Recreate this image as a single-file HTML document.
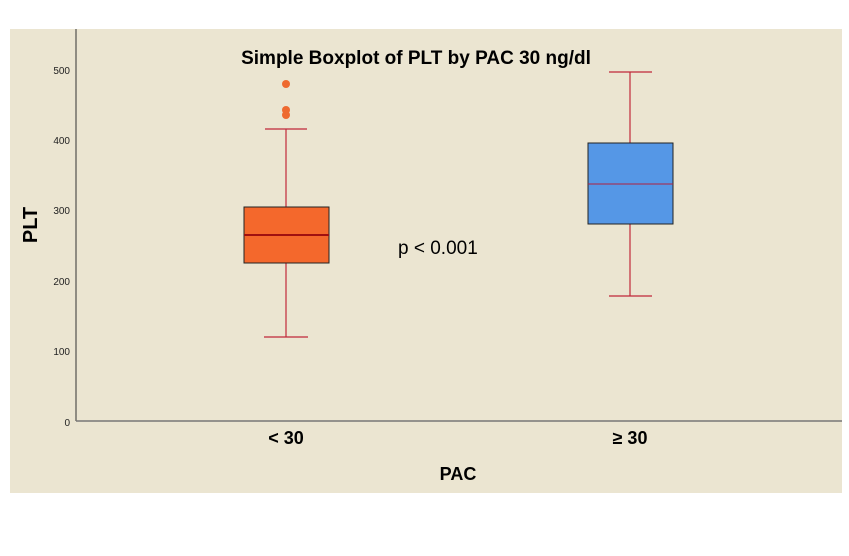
<!DOCTYPE html>
<html><head><meta charset="utf-8"><style>body{margin:0;background:#fff}</style></head><body>
<svg width="849" height="551" xmlns="http://www.w3.org/2000/svg" font-family="Liberation Sans, sans-serif">
<rect x="0" y="0" width="849" height="551" fill="#fff"/>
<rect x="10" y="29" width="832" height="464" fill="#ebe5d1"/>
<line x1="76" y1="29" x2="76" y2="421" stroke="#333" stroke-width="1"/>
<line x1="76" y1="421" x2="842" y2="421" stroke="#777" stroke-width="1.5"/>
<g font-size="10" text-anchor="end" fill="#222">
<text x="70" y="74">500</text><text x="70" y="144">400</text><text x="70" y="214">300</text>
<text x="70" y="285">200</text><text x="70" y="355">100</text><text x="70" y="426">0</text>
</g>
<text x="416" y="64" font-size="19" font-weight="bold" text-anchor="middle">Simple Boxplot of PLT by PAC 30 ng/dl</text>
<text x="398" y="254" font-size="19">p &lt; 0.001</text>
<text transform="translate(37,225) rotate(-90)" font-size="20" font-weight="bold" text-anchor="middle">PLT</text>
<text x="286" y="444" font-size="18" font-weight="bold" text-anchor="middle">&lt; 30</text>
<text x="630" y="444" font-size="18" font-weight="bold" text-anchor="middle">≥ 30</text>
<text x="458" y="480" font-size="18" font-weight="bold" text-anchor="middle">PAC</text>
<g stroke="#c0283a" stroke-width="1.2">
<line x1="286" y1="129" x2="286" y2="207"/><line x1="286" y1="263" x2="286" y2="337"/>
<line x1="265" y1="129" x2="307" y2="129"/><line x1="264" y1="337" x2="308" y2="337"/>
<line x1="630" y1="72" x2="630" y2="143"/><line x1="630" y1="224" x2="630" y2="296"/>
<line x1="609" y1="72" x2="652" y2="72"/><line x1="609" y1="296" x2="652" y2="296"/>
</g>
<rect x="244" y="207" width="85" height="56" fill="#f4682c" stroke="#222"/>
<line x1="244" y1="235" x2="329" y2="235" stroke="#a01010" stroke-width="2"/>
<rect x="588" y="143" width="85" height="81" fill="#5597e6" stroke="#222"/>
<line x1="588" y1="184" x2="673" y2="184" stroke="#b02040" stroke-width="1"/>
<g fill="#ee6a30"><circle cx="286" cy="84" r="4"/><circle cx="286" cy="110" r="4"/><circle cx="286" cy="115" r="4"/></g>
</svg>
</body></html>
